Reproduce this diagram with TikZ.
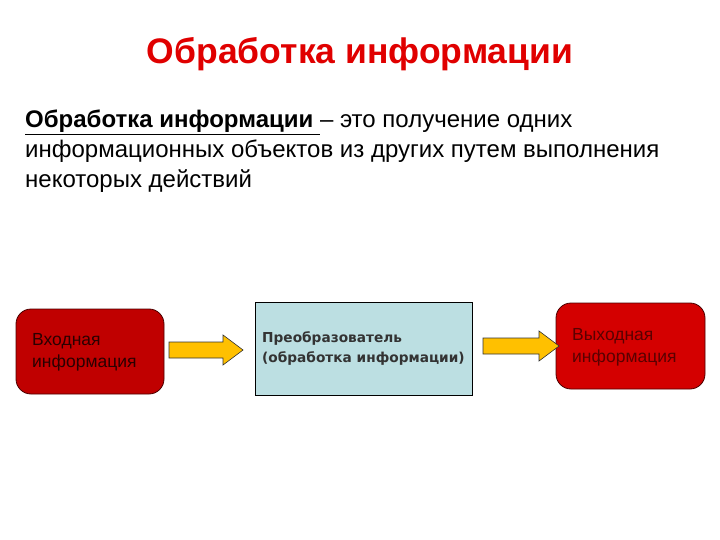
\documentclass[tikz,border=0pt]{standalone}
\usepackage{fontspec}
\setmainfont{Liberation Sans}
\newfontfamily\dejavu{DejaVu Sans}
\usetikzlibrary{calc}
\definecolor{boxred}{HTML}{C00000}
\definecolor{boxred2}{HTML}{D40000}
\definecolor{txtred}{HTML}{2A0000}
\definecolor{txtred2}{HTML}{5A0000}
\definecolor{lblue}{HTML}{BCDFE2}
\definecolor{gold}{HTML}{FFC000}
\definecolor{titred}{HTML}{E00000}
\begin{document}
\begin{tikzpicture}[x=1pt,y=-1pt,
  redbox/.style={draw=black!70!red, line width=0.8pt, rounded corners=15pt},
  arrowshape/.style={fill=gold, draw=black!80, line width=0.6pt},
  boxtext/.style={align=left, anchor=west, inner sep=0pt, font=\fontsize{17.5}{22}\selectfont, text=txtred}]
\useasboundingbox (0,0) rectangle (720,540);
\node[anchor=base, inner sep=0pt, font=\bfseries\fontsize{35.5}{40}\selectfont, text=titred] (title) at (360,64) {Обработка информации};
\node[anchor=north west, align=left, inner sep=0pt, font=\fontsize{24}{30}\selectfont] (def) at (25,110)
  {\underline{\textbf{Обработка информации }}– это получение одних\\
   информационных объектов из других путем выполнения\\
   некоторых действий};
\draw[redbox, fill=boxred] (16,309) rectangle (164,394);
\node[boxtext] (in) at (32,352) {Входная\\информация};
\draw[draw=black, line width=0.8pt, fill=lblue] (255,302) rectangle (472,395);
\node[align=left, anchor=west, inner sep=0pt, font=\dejavu\bfseries\fontsize{13.7}{20}\selectfont, text=black!80] (proc) at (262,348) {Преобразователь\\(обработка информации)};
\draw[redbox, fill=boxred2] (556,303) rectangle (705,389);
\node[boxtext, text=txtred2] (out) at (572,347) {Выходная\\информация};
\coordinate (a1s) at (169,350);
\coordinate (a1e) at (243,350);
\coordinate (a2s) at (483,346);
\coordinate (a2e) at (559,346);
\draw[arrowshape]
  ($(a1s)+(0,-8)$) -- ($(a1e)+(-20,-8)$) -- ($(a1e)+(-20,-15)$) -- (a1e) -- ($(a1e)+(-20,15)$) -- ($(a1e)+(-20,8)$) -- ($(a1s)+(0,8)$) -- cycle;
\draw[arrowshape]
  ($(a2s)+(0,-8)$) -- ($(a2e)+(-20,-8)$) -- ($(a2e)+(-20,-15)$) -- (a2e) -- ($(a2e)+(-20,15)$) -- ($(a2e)+(-20,8)$) -- ($(a2s)+(0,8)$) -- cycle;
\end{tikzpicture}
\end{document}
